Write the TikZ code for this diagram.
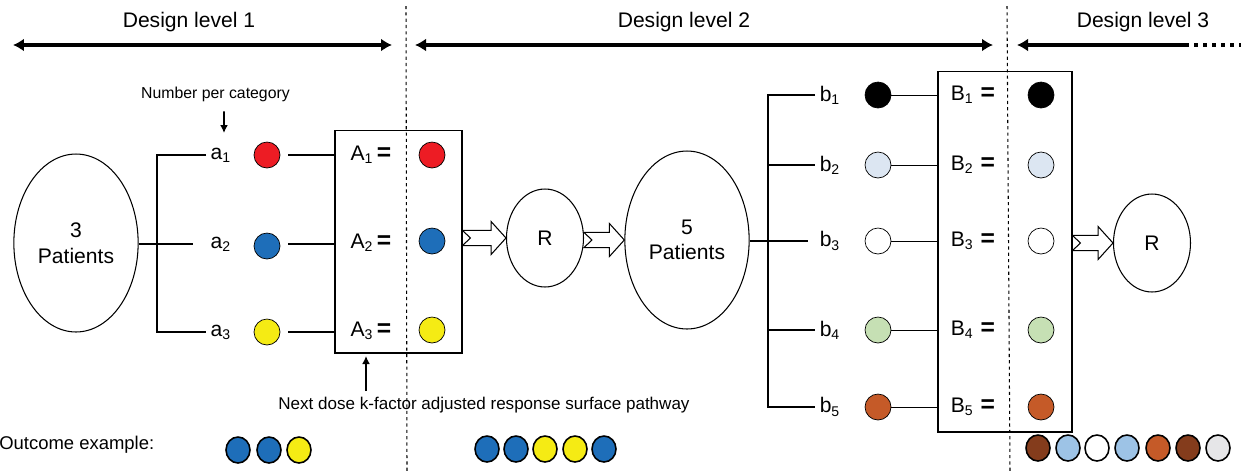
\documentclass[tikz,border=0pt]{standalone}
\usepackage{fontspec}
\setmainfont{Liberation Sans}
\usepackage{tikz}
\usetikzlibrary{calc,shapes.geometric,arrows.meta,positioning}
\definecolor{dotred}{RGB}{237,28,36}
\definecolor{dotblue}{RGB}{30,110,185}
\definecolor{dotyellow}{RGB}{245,235,20}
\definecolor{dotpale}{RGB}{220,230,242}
\definecolor{dotgreen}{RGB}{198,224,180}
\definecolor{dotorange}{RGB}{197,90,40}
\definecolor{dotbrown}{RGB}{132,60,28}
\definecolor{dotsky}{RGB}{157,195,230}
\definecolor{dotgrey}{RGB}{230,230,232}
\newcommand{\eqsign}{\,{\fontsize{14}{14}\selectfont\textbf{=}}}
\tikzset{
	patients/.style={
		draw, ellipse, semithick, align=center,
		minimum width=24.8mm, minimum height=35.6mm,
		font=\fontsize{12}{14.5}\selectfont
	},
	rnode/.style={
		draw, ellipse, semithick,
		minimum width=15.4mm, minimum height=19.6mm,
		font=\fontsize{12}{14}\selectfont
	},
	dot/.style={draw, circle, thin, minimum size=5.2mm, inner sep=0pt},
	smalldot/.style={
		draw, ellipse, line width=0.9pt, inner sep=0pt,
		minimum width=4.8mm, minimum height=5.2mm
	},
	lab/.style={font=\fontsize{12}{14}\selectfont, inner sep=2.5pt},
	heading/.style={font=\fontsize{12}{14}\selectfont, anchor=base},
	note/.style={font=\fontsize{9}{11}\selectfont, anchor=base},
	pathbox/.style={draw, semithick},
	branch/.style={line width=0.7pt},
	level/.style={line width=2.2pt},
	levtip/.tip={Latex[length=2.2mm,width=2.6mm]},
	divider/.style={dash pattern=on 1.8pt off 1.8pt, line width=0.6pt},
	pointer/.style={-{Latex[length=1.6mm,width=1.6mm]}, line width=0.9pt}
}
% hollow block arrow with notched tail
\newcommand{\fatarrow}[2]{%
	\draw[semithick, fill=white] let \p1=(#1), \p2=(#2) in
		(\x1,\y2+4.3pt) -- (\x2-8.5pt,\y2+4.3pt) -- (\x2-8.5pt,\y2+9.4pt) -- (\x2,\y2)
		-- (\x2-8.5pt,\y2-9.4pt) -- (\x2-8.5pt,\y2-4.3pt) -- (\x1,\y2-4.3pt)
		-- (\x1+4.5pt,\y2) -- cycle;}

\begin{document}
\begin{tikzpicture}[x=0.02cm, y=-0.02cm]
	\useasboundingbox (0,0) rectangle (1241,471);
	% design levels
	\node[heading] (lev1) at (189,27) {Design level 1};
	\node[heading] (lev2) at (684,27) {Design level 2};
	\node[heading] (lev3) at (1143,27) {Design level 3};
	\coordinate (l1w) at (13,45);
	\coordinate (l1e) at (392,45);
	\coordinate (l2w) at (415,45);
	\coordinate (l2e) at (993,45);
	\coordinate (l3w) at (1017,45);
	\coordinate (l3e) at (1185,45);
	\coordinate (l3end) at (1241,45);
	\draw[level, levtip-levtip] (l1w) -- (l1e);
	\draw[level, levtip-levtip] (l2w) -- (l2e);
	\draw[level, -levtip] (l3e) -- (l3w);
	\draw[line width=2pt, dash pattern=on 0.7mm off 1.1mm] (l3e) -- (l3end);
	\coordinate (d1t) at (406,6);
	\coordinate (d1b) at (407,471);
	\coordinate (d2t) at (1007,6);
	\coordinate (d2b) at (1010,471);
	\draw[divider] (d1t) -- (d1b);
	\draw[divider] (d2t) -- (d2b);

	% level 1
	\node[patients] (pat1) at (76,243) {3\\Patients};
	\node[lab, anchor=west] (a1) at (206,155) {a\textsubscript{1}};
	\node[lab, anchor=west] (a2) at (206,244) {a\textsubscript{2}};
	\node[lab, anchor=west] (a3) at (206,332) {a\textsubscript{3}};
	\coordinate (brA) at (157,244);
	\draw[branch] (a1.west) -| (brA) |- (a3.west);
	\draw[branch, shorten >=2.6mm] (pat1.east |- a2) -- (a2.west);
	\node[dot, fill=dotred] (ca1) at (267,155) {};
	\node[dot, fill=dotblue] (ca2) at (267,246) {};
	\node[dot, fill=dotyellow] (ca3) at (267,332) {};
	\node[pathbox, minimum width=25.4mm, minimum height=44.6mm] (boxA) at (398.5,241.5) {};
	\draw[branch, shorten <=1.6mm] (ca1.east) -- (ca1.east -| boxA.west);
	\draw[branch, shorten <=1.6mm] (ca2.east |- a2) -- (a2 -| boxA.west);
	\draw[branch, shorten <=1.6mm] (ca3.east) -- (ca3.east -| boxA.west);
	\node[lab] (A1) at (371,155) {A\textsubscript{1}\eqsign};
	\node[lab] (A2) at (371,243) {A\textsubscript{2}\eqsign};
	\node[lab] (A3) at (371,331) {A\textsubscript{3}\eqsign};
	\node[dot, fill=dotred] (ra1) at (432,155) {};
	\node[dot, fill=dotblue] (ra2) at (432,241) {};
	\node[dot, fill=dotyellow] (ra3) at (432,330) {};
	\node[note, font=\fontsize{9}{11}\selectfont] (npc) at (215.5,98) {Number per category};
	\coordinate (npcend) at (224,133);
	\draw[pointer] ($(npc.south)+(8.5,4)$) -- (npcend);
	\node[note, font=\fontsize{9.7}{11}\selectfont] (nxt) at (484,409) {Next dose k-factor adjusted response surface pathway};
	\coordinate (nxtend) at (366,356);
	\draw[pointer] (nxtend |- 0,391) -- (nxtend);

	% level 2
	\node[rnode] (r1) at (545,238) {R};
	\node[patients] (pat2) at (687,240) {5\\Patients};
	\fatarrow{boxA.east}{r1.west}
	\fatarrow{r1.east}{pat2.west}
	\coordinate (brB) at (768,241);
	\foreach \i/\y/\c in {1/95/black, 2/165/dotpale, 3/241/white, 4/330/dotgreen, 5/407/dotorange} {
		\node[lab, anchor=west] (b\i) at (815,\y) {b\textsubscript{\i}};
		\node[dot, fill=\c] (cb\i) at (878,\y) {};
	}
	\draw[branch] (b1.west) -| (brB) |- (b5.west);
	\draw[branch] (brB |- b2) -- (b2.west);
	\draw[branch] (brB |- b4) -- (b4.west);
	\draw[branch, shorten >=1.4mm] (pat2.east |- b3) -- (b3.west);
	\node[pathbox, minimum width=26.8mm, minimum height=72.2mm] (boxB) at (1005,251.5) {};
	\foreach \i/\y/\c in {1/95/black, 2/165/dotpale, 3/241/white, 4/330/dotgreen, 5/407/dotorange} {
		\draw[line width=0.5pt] (cb\i.east) -- (cb\i.east -| boxB.west);
		\node[lab] (B\i) at (973,\y) {B\textsubscript{\i}\,\eqsign};
		\node[dot, fill=\c] (rb\i) at (1041,\y) {};
	}
	\node[rnode] (r2) at (1152,243) {R};
	\fatarrow{boxB.east}{r2.west}

	% outcome example
	\node[anchor=base west, inner sep=0pt, font=\fontsize{10.5}{12}\selectfont] (outc) at (-1,449) {Outcome example:};
	\foreach \x/\c [count=\k] in {238/dotblue, 269/dotblue, 299/dotyellow}
		\node[smalldot, fill=\c] (oa\k) at (\x,450) {};
	\foreach \x/\c [count=\k] in {487/dotblue, 516/dotblue, 545/dotyellow, 575/dotyellow, 604/dotblue}
		\node[smalldot, fill=\c] (ob\k) at (\x,449) {};
	\foreach \x/\c [count=\k] in {1038/dotbrown, 1068/dotsky, 1097/white, 1127/dotsky, 1158/dotorange, 1188/dotbrown, 1218/dotgrey}
		\node[smalldot, fill=\c] (oc\k) at (\x,448) {};
\end{tikzpicture}
\end{document}
